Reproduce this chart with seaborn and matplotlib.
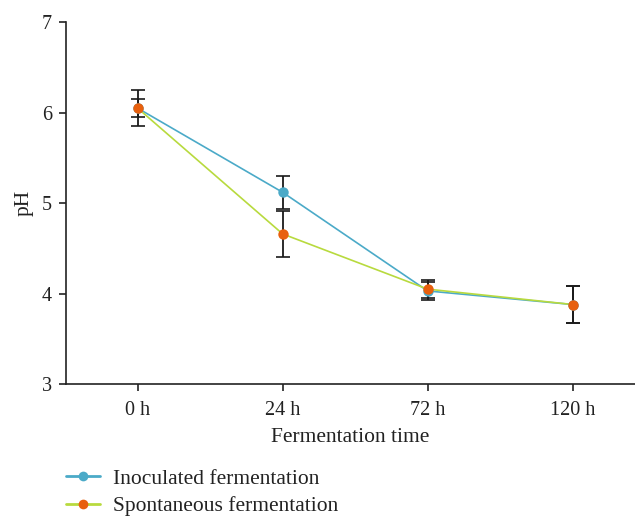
import matplotlib
matplotlib.use("Agg")
import matplotlib.pyplot as plt
from matplotlib.lines import Line2D
import seaborn as sns
import pandas as pd
import numpy as np

times = ["0 h", "24 h", "72 h", "120 h"]
inoculated = [6.05, 5.12, 4.03, 3.88]
inoculated_err = [0.1, 0.18, 0.1, 0.2]
spontaneous = [6.05, 4.66, 4.05, 3.88]
spontaneous_err = [0.2, 0.25, 0.1, 0.2]
series_names = ["Inoculated fermentation", "Spontaneous fermentation"]

blue = "#4BAAC8"
green = "#B8DA3E"
orange = "#E8600E"

sns.set_style("ticks")
plt.rcParams["font.family"] = ["Liberation Serif", "DejaVu Serif"]

fig = plt.figure(figsize=(6.35, 5.17), dpi=100)
ax = fig.add_axes([0.104, 0.257, 0.896, 0.7])

df = pd.DataFrame({
    "time": times * 2,
    "pH": inoculated + spontaneous,
    "err": inoculated_err + spontaneous_err,
    "series": [series_names[0]] * 4 + [series_names[1]] * 4,
})
df["pos"] = df["time"].map({t: i for i, t in enumerate(times)})

sns.lineplot(data=df, x="pos", y="pH", hue="series",
             palette={series_names[0]: blue, series_names[1]: green},
             lw=1.2, legend=False, ax=ax, zorder=2)

for name in series_names:
    sub = df[df["series"] == name]
    ax.errorbar(sub["pos"], sub["pH"], yerr=sub["err"], fmt="none",
                ecolor="#1a1a1a", elinewidth=1.3, capsize=5, capthick=1.2, zorder=3)
for name, mcol in [(series_names[0], blue), (series_names[1], orange)]:
    sub = df[df["series"] == name]
    ax.plot(sub["pos"], sub["pH"], "o", color=mcol, ms=7.5, mec="none", zorder=4)

ax.set_xlim(-0.494, 3.43)
ax.set_ylim(3, 7)
ax.set_xticks(range(len(times)))
ax.set_xticklabels(times)
ax.set_yticks([3, 4, 5, 6, 7])
ax.tick_params(labelsize=14.5, length=5, width=1.2, color="#222222", labelcolor="#222222")
ax.tick_params(axis="x", pad=7)
ax.tick_params(axis="y", pad=5)
for s in ["top", "right"]:
    ax.spines[s].set_visible(False)
for s in ["left", "bottom"]:
    ax.spines[s].set_linewidth(1.2)
    ax.spines[s].set_color("#222222")
ax.set_xlabel("Fermentation time", fontsize=15.5, color="#222222", labelpad=6)
ax.set_ylabel("pH", fontsize=15.5, color="#222222", labelpad=6)

handles = [
    Line2D([0], [0], color=blue, lw=2, marker="o", mfc=blue, mec="none", ms=7),
    Line2D([0], [0], color=green, lw=2, marker="o", mfc=orange, mec="none", ms=7),
]
fig.legend(handles, series_names, loc="upper left", bbox_to_anchor=(0.104, 0.093),
           frameon=False, fontsize=15.5, handlelength=1.6, labelspacing=0.33,
           handletextpad=0.6, borderaxespad=0, borderpad=0,
           labelcolor="#222222")

fig.savefig("out.png", dpi=100)
